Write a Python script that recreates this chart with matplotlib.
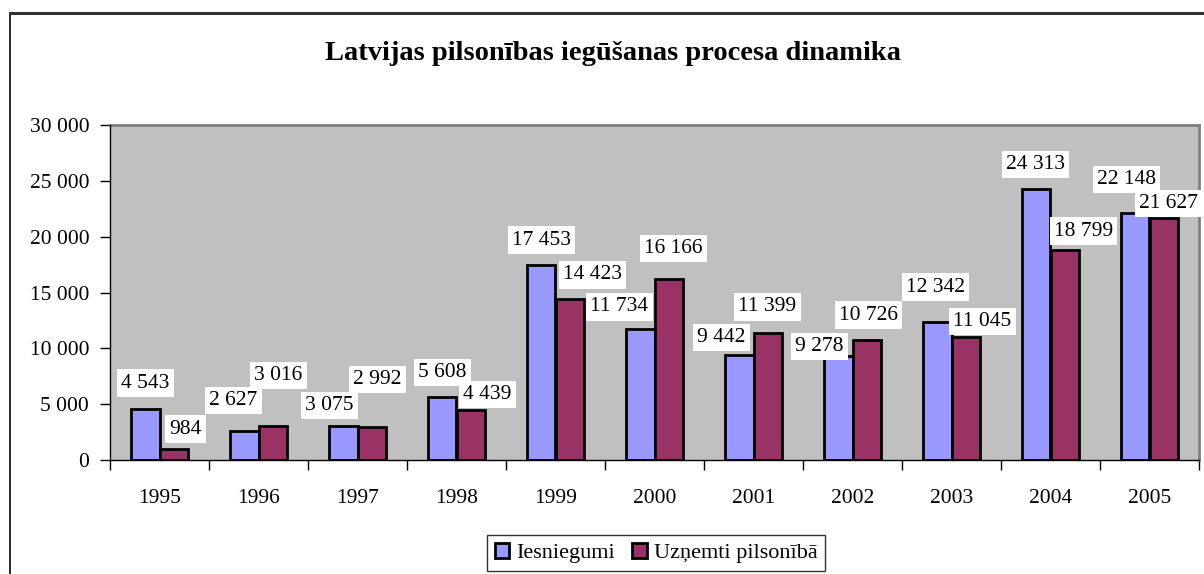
import numpy as np
import matplotlib.pyplot as plt
from matplotlib.lines import Line2D
from matplotlib.patches import Patch

plt.rcParams['font.family'] = ['Liberation Serif', 'DejaVu Serif']

# data
years = ['1995', '1996', '1997', '1998', '1999', '2000', '2001', '2002', '2003', '2004', '2005']
iesniegumi = [4543, 2627, 3075, 5608, 17453, 11734, 9442, 9278, 12342, 24313, 22148]
uznemti = [984, 3016, 2992, 4439, 14423, 16166, 11399, 10726, 11045, 18799, 21627]
series_names = ['Iesniegumi', 'Uzņemti pilsonībā']
yticks = [0, 5000, 10000, 15000, 20000, 25000, 30000]

# label nudges (pixels) relative to bar top, as in the original
off_blue = [(0, 26), (-11, 30), (-14, 20), (0, 25), (0, 25), (-21, 22),
            (-18, 17), (-19, 10), (-2, 35), (-1, 24), (-9, 33)]
off_red = [(12, 20), (6, 51), (6, 47), (17, 16), (23, 24), (5, 31),
           (0, 26), (2, 25), (17, 15), (19, 19), (5, 15)]

blue = '#9999FF'
red = '#993366'

def fmt(v):
    return f'{v:,}'.replace(',', ' ')

fig = plt.figure(figsize=(12.04, 5.74), dpi=100)
W, H = 1204, 574
ax = fig.add_axes([110 / W, 1 - 460 / H, (1199 - 110) / W, (460 - 125) / H])
ax.set_facecolor('#C0C0C0')

x = np.arange(len(years))
bw = 0.283
b1 = ax.bar(x - bw / 2, iesniegumi, bw, color=blue, edgecolor='black', linewidth=2, zorder=2)
b2 = ax.bar(x + bw / 2, uznemti, bw, color=red, edgecolor='black', linewidth=2, zorder=2)

for bars, vals, offs in [(b1, iesniegumi, off_blue), (b2, uznemti, off_red)]:
    for b, v, (dx, dy) in zip(bars, vals, offs):
        ax.annotate(fmt(v), (b.get_x() + b.get_width() / 2, v),
                    xytext=(dx, dy), textcoords='offset pixels',
                    ha='center', va='center', fontsize=15.5, zorder=5,
                    annotation_clip=False,
                    bbox=dict(boxstyle='square,pad=0.2', fc='white', ec='none'))

ax.set_xlim(-0.5, len(years) - 0.5)
ax.set_ylim(0, 30000)
ax.set_yticks(yticks)
ax.set_yticklabels([fmt(t) for t in yticks], fontsize=15.5)
ax.set_xticks(x)
ax.set_xticklabels(years, fontsize=15.5)
ax.tick_params(axis='x', which='major', length=0, pad=21)
ax.set_xticks(np.arange(len(years) + 1) - 0.5, minor=True)
ax.tick_params(axis='x', which='minor', length=7, width=1, direction='out')
ax.tick_params(axis='y', length=7, width=1, direction='out', pad=8)

for s in ['top', 'right']:
    ax.spines[s].set_color('#808080')
    ax.spines[s].set_linewidth(2)
for s in ['left', 'bottom']:
    ax.spines[s].set_color('black')
    ax.spines[s].set_linewidth(1)
    ax.spines[s].set_zorder(3)

# outer chart frame
fig.add_artist(Line2D([10 / W, 10 / W], [0, 1 - 13 / H], color='black', lw=1.2))
fig.add_artist(Line2D([10 / W, 1], [1 - 13 / H, 1 - 13 / H], color='#333333', lw=2.2))

fig.text(613 / W, 1 - 53 / H, 'Latvijas pilsonības iegūšanas procesa dinamika',
         ha='center', va='center', fontsize=20.5, fontweight='bold')

handles = [Patch(facecolor=blue, edgecolor='black', linewidth=2),
           Patch(facecolor=red, edgecolor='black', linewidth=2)]
leg = fig.legend(handles, series_names, loc='center', bbox_to_anchor=(656 / W, 1 - 553 / H),
                 ncol=2, fontsize=16, frameon=True, fancybox=False, edgecolor='black',
                 handlelength=0.65, handleheight=0.65, handletextpad=0.3, columnspacing=0.8,
                 borderpad=0.35, borderaxespad=0)
leg.get_frame().set_linewidth(1)

fig.savefig('out.png', dpi=100)
